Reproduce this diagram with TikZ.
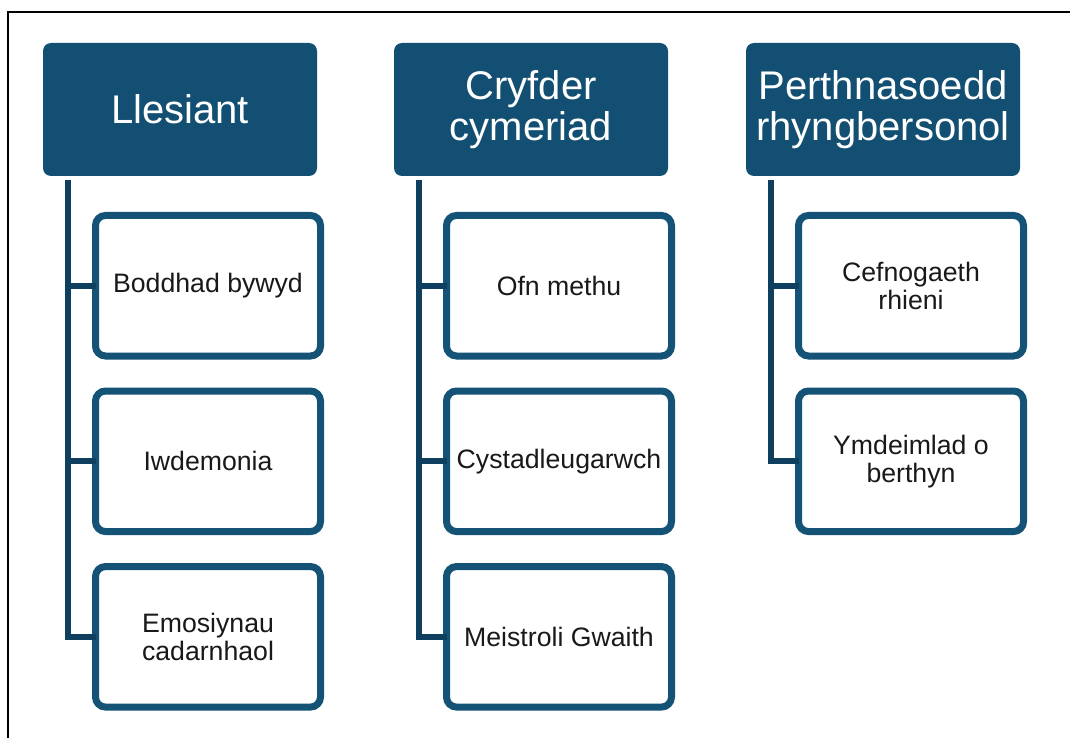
\documentclass[tikz,border=0pt]{standalone}
\usepackage{fontspec}
\setmainfont{Liberation Sans}
\usetikzlibrary{positioning, calc}

\definecolor{headblue}{HTML}{124F72}
\definecolor{boxblue}{HTML}{145276}
\definecolor{linkblue}{HTML}{0F3F5E}

\begin{document}
\begin{tikzpicture}[
    x=0.75pt, y=-0.75pt, % pixel grid, y going down
    % Styles
    head/.style={ % column heading
        rectangle,
        rounded corners=6pt,
        minimum width=205.5pt,
        minimum height=99.75pt,
        inner sep=2pt,
        outer sep=0pt,
        fill=headblue,
        text=white,
        align=center,
        font=\fontsize{30}{31}\selectfont
    },
    item/.style={ % child box
        rectangle,
        rounded corners=7.5pt,
        minimum width=168.75pt,
        minimum height=105.4pt,
        inner sep=2pt,
        outer sep=0pt,
        draw=boxblue,
        line width=5.25pt,
        fill=white,
        text=black!90,
        align=center,
        font=\fontsize{20}{21}\selectfont
    },
    link/.style={ % connector
        draw=linkblue,
        line width=4.5pt
    },
    frame/.style={
        draw=black,
        line width=1.1pt
    }
]
    \useasboundingbox (0,0) rectangle (1070,738);

    % Frame
    \draw[frame] (8,738) -- (8,12) -- (1070,12);

    % Headings
    \node[head] (h1) at (180,109.5) {Llesiant};
    \node[head] (h2) at (531,109.5) {Cryfder\\cymeriad};
    \node[head] (h3) at (883,109.5) {Perthnasoedd\\rhyngbersonol};

    % First column
    \node[item, below=29.6pt of h1, xshift=21pt] (c11) {Boddhad bywyd};
    \node[item, below=26.25pt of c11] (c12) {Iwdemonia};
    \node[item, below=26.25pt of c12] (c13) {Emosiynau\\cadarnhaol};

    % Second column
    \node[item, below=29.6pt of h2, xshift=21pt] (c21) {Ofn methu};
    \node[item, below=26.25pt of c21] (c22) {Cystadleugarwch};
    \node[item, below=26.25pt of c22] (c23) {Meistroli Gwaith};

    % Third column
    \node[item, below=29.6pt of h3, xshift=21pt] (c31) {Cefnogaeth\\rhieni};
    \node[item, below=26.25pt of c31] (c32) {Ymdeimlad o\\berthyn};

    % Connectors
    \foreach \C/\L in {1/3, 2/3, 3/2} {
        \coordinate (t\C) at ($(h\C.south west)+(25,4)$);
        \draw[link] (t\C) |- (c\C\L.west);
    }
    \foreach \C/\I in {1/1, 1/2, 2/1, 2/2, 3/1} {
        \draw[link] (c\C\I.west) -- (c\C\I.west -| t\C);
    }
\end{tikzpicture}
\end{document}
